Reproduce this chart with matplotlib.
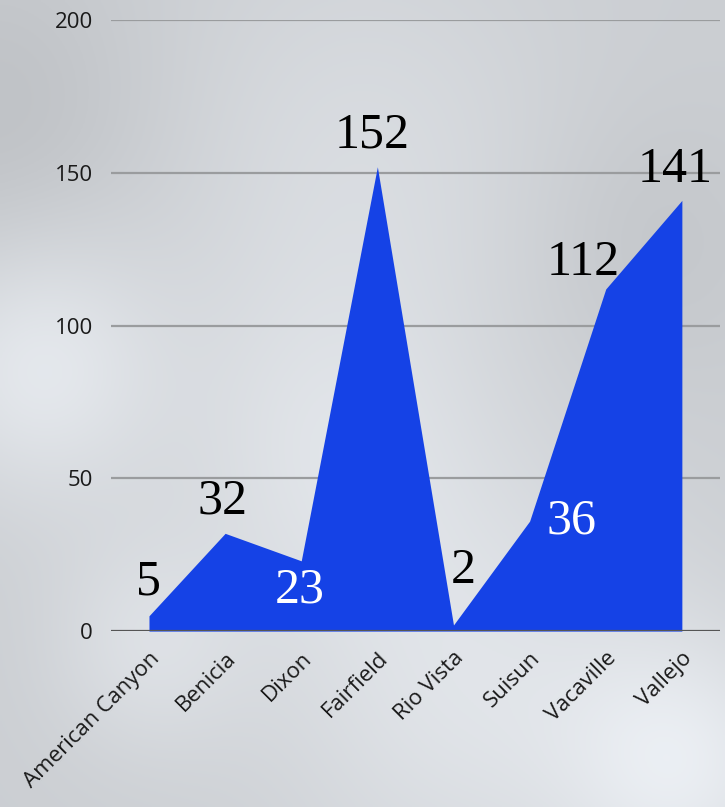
import numpy as np
from matplotlib import pyplot as plt

cities = ['American Canyon', 'Benicia', 'Dixon', 'Fairfield',
          'Rio Vista', 'Suisun', 'Vacaville', 'Vallejo']
counts = [5, 32, 23, 152, 2, 36, 112, 141]
y_ticks = [0, 50, 100, 150, 200]

# label offsets (points) and colours per value
label_offsets = [(0, 24), (-2, 23), (-1, -21), (-4, 23), (7, 39), (30, 0), (-16, 19), (-5, 22)]
label_colors = ['black', 'black', 'white', 'black', 'black', 'white', 'black', 'black']

BLUE = '#1542e6'

fig = plt.figure(figsize=(7.25, 8.07), dpi=100)

# cloudy sky backdrop: a few soft blobs over a grey-blue base
bg = fig.add_axes([0, 0, 1, 1], zorder=0)
yy, xx = np.mgrid[0:1:300j, 0:1:280j]
sky = np.full(xx.shape, 0.81)
blobs = [(0.05, 0.45, 0.12, 0.10), (0.45, 0.55, 0.15, 0.06), (0.65, 0.85, 0.2, 0.08),
         (0.95, 0.95, 0.12, 0.10), (0.2, 0.8, 0.1, 0.06), (0.5, 0.2, 0.2, 0.05),
         (0.0, 0.15, 0.15, -0.05), (0.9, 0.3, 0.12, -0.03)]
for cx, cy, r, a in blobs:
    sky += a * np.exp(-((xx - cx) ** 2 + (yy - cy) ** 2) / (2 * r ** 2))
sky = np.clip(sky, 0, 1)
rgb = np.dstack([sky * 0.985, sky * 1.0, sky * 1.02])
bg.imshow(np.clip(rgb, 0, 1), aspect='auto', extent=[0, 1, 0, 1], origin='upper')
bg.axis('off')

ax = fig.add_axes([0.153, 0.218, 0.840, 0.757], zorder=1)
ax.patch.set_alpha(0)

x = np.arange(len(cities))
ax.fill_between(x, counts, 0, color=BLUE, linewidth=0, zorder=2)

ax.set_xlim(-0.5, len(cities) - 0.5)
ax.set_ylim(0, 200)
ax.set_yticks(y_ticks)
for t in y_ticks:
    ax.axhline(t, color='#555555' if t == 0 else '#9a9c9e', lw=1.6, zorder=1 if t else 3)

for s in ax.spines.values():
    s.set_visible(False)
ax.tick_params(axis='both', length=0, labelsize=16, colors='#1a1a1a')
ax.tick_params(axis='y', pad=13)
ax.tick_params(axis='x', pad=12)
ax.set_xticks(x)
ax.set_xticklabels(cities, rotation=45, ha='right', rotation_mode='anchor')
for lbl in ax.get_xticklabels() + ax.get_yticklabels():
    lbl.set_fontfamily('Open Sans')

for xi, v, off, c in zip(x, counts, label_offsets, label_colors):
    ax.annotate(str(v), (xi, v), xytext=off, textcoords='offset points',
                ha='center', va='center', fontsize=36, color=c,
                fontfamily='Liberation Serif', zorder=4)

fig.savefig('out.png', dpi=100)
